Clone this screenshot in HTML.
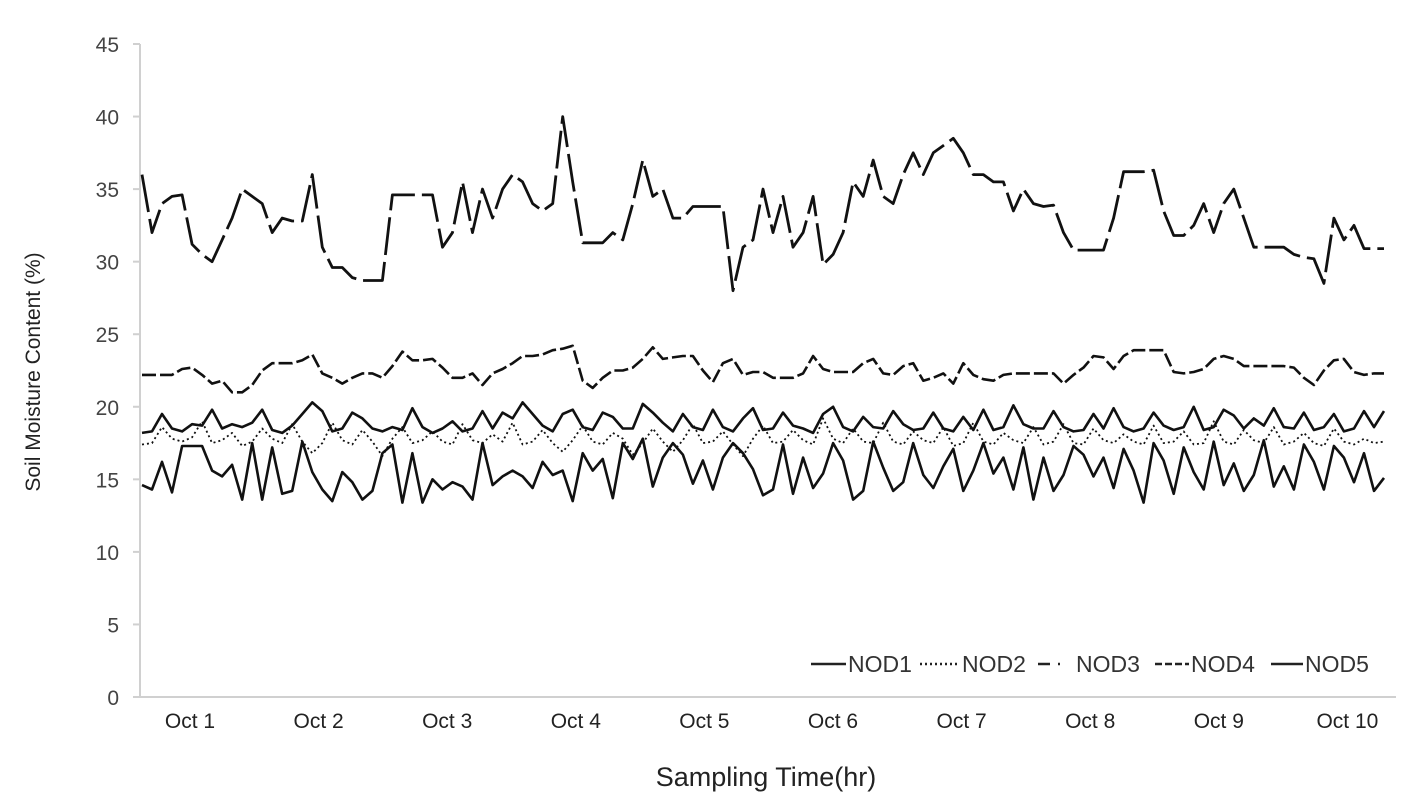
<!DOCTYPE html>
<html><head><meta charset="utf-8"><style>
html,body{margin:0;padding:0;background:#fff;}
svg{display:block;font-family:"Liberation Sans",sans-serif;}
</style></head><body>
<svg id="chart" width="1404" height="810" viewBox="0 0 1404 810">
<g id="axes"></g><g id="series"></g>
<text transform="translate(40,372) rotate(-90)" text-anchor="middle" font-size="21" fill="#222">Soil Moisture Content (%)</text>
<text x="766" y="786" text-anchor="middle" font-size="27" fill="#222">Sampling Time(hr)</text>
<g id="legend"></g>
</svg>
<script>
const yTicks=[0,5,10,15,20,25,30,35,40,45];
const days=["Oct 1","Oct 2","Oct 3","Oct 4","Oct 5","Oct 6","Oct 7","Oct 8","Oct 9","Oct 10"];
const seriesNames=["NOD1","NOD2","NOD3","NOD4","NOD5"];
const nod3=[36,32,34,34.5,34.6,31.2,30.5,30,31.5,33,35,34.5,34,32,33,32.8,32.8,36,31,29.6,29.6,28.9,28.7,28.7,28.7,34.6,34.6,34.6,34.6,34.6,31,32,35.5,32,35,33,35,36,35.5,34,33.5,34,40,35.5,31.3,31.3,31.3,32,31.5,34,37,34.5,35,33,33,33.8,33.8,33.8,33.8,28,31,31.5,35,32,34.5,31,32,34.5,29.8,30.5,32,35.5,34.5,37,34.5,34,36,37.5,36,37.5,38,38.5,37.5,36,36,35.5,35.5,33.5,35,34,33.8,33.9,32,30.8,30.8,30.8,30.8,33,36.2,36.2,36.2,36.3,33.5,31.8,31.8,32.5,34,32,34,35,33,31,31,31,31,30.5,30.3,30.2,28.5,33,31.5,32.5,30.9,30.9,30.9];
const nod4=[22.2,22.2,22.2,22.2,22.6,22.7,22.2,21.6,21.8,21,21,21.5,22.5,23,23,23,23.2,23.6,22.3,22,21.6,22,22.3,22.3,22,22.8,23.8,23.2,23.2,23.3,22.7,22,22,22.3,21.5,22.3,22.6,23,23.5,23.5,23.6,23.9,24,24.2,21.8,21.3,22,22.5,22.5,22.7,23.3,24.1,23.3,23.4,23.5,23.5,22.5,21.7,23,23.3,22.2,22.4,22.4,22,22,22,22.3,23.5,22.6,22.4,22.4,22.4,23,23.3,22.3,22.2,22.8,23,21.8,22,22.3,21.6,23,22.2,21.9,21.8,22.2,22.3,22.3,22.3,22.3,22.3,21.6,22.2,22.7,23.5,23.4,22.6,23.5,23.9,23.9,23.9,23.9,22.4,22.3,22.4,22.6,23.3,23.5,23.3,22.8,22.8,22.8,22.8,22.8,22.7,22,21.5,22.5,23.2,23.3,22.4,22.2,22.3,22.3];
const nod1=[18.2,18.3,19.5,18.5,18.3,18.8,18.7,19.8,18.5,18.8,18.6,18.9,19.8,18.4,18.2,18.7,19.5,20.3,19.7,18.3,18.5,19.6,19.2,18.5,18.3,18.6,18.4,19.9,18.6,18.2,18.5,19,18.3,18.5,19.7,18.5,19.6,19.2,20.3,19.5,18.7,18.3,19.5,19.8,18.6,18.4,19.6,19.3,18.5,18.5,20.2,19.6,18.9,18.3,19.5,18.6,18.4,19.8,18.6,18.3,19.2,19.9,18.4,18.5,19.6,18.7,18.5,18.2,19.5,20,18.6,18.3,19.3,18.6,18.5,19.7,18.8,18.4,18.5,19.6,18.5,18.3,19.3,18.4,19.8,18.4,18.6,20.1,18.8,18.5,18.5,19.7,18.6,18.3,18.4,19.5,18.5,19.9,18.6,18.3,18.5,19.6,18.7,18.4,18.6,20,18.4,18.6,19.8,19.4,18.5,19.2,18.7,19.9,18.6,18.5,19.6,18.4,18.6,19.5,18.3,18.5,19.7,18.6,19.7];
const nod2=[17.4,17.5,18.6,17.8,17.6,17.9,19,17.5,17.7,18.2,17.3,17.6,18.5,17.8,17.5,18.8,17.6,16.8,17.5,18.9,17.7,17.4,18.4,17.6,16.6,17.8,18.6,17.5,17.7,18.3,17.6,17.4,18.8,17.7,17.5,18.1,17.6,18.9,17.4,17.6,18.4,17.5,16.9,17.7,18.7,17.6,17.4,18.2,17.8,16.7,17.5,18.5,17.6,16.9,17.7,18.8,17.5,17.6,18.3,17.4,16.6,17.8,18.7,17.5,17.6,18.4,17.7,17.4,19.2,17.8,17.5,18.5,17.6,17.5,18.9,17.6,17.4,18.3,17.7,17.5,18.6,17.3,17.5,18.9,17.6,17.4,18.2,17.7,17.5,18.6,17.4,17.6,18.8,17.5,17.4,18.5,17.7,17.5,18.1,17.6,17.4,18.7,17.5,17.6,18.3,17.4,17.5,19,17.6,17.4,18.4,17.7,17.5,18.6,17.4,17.6,18.2,17.5,17.3,18.5,17.6,17.4,17.8,17.5,17.6];
const nod5=[14.6,14.3,16.2,14.1,17.3,17.3,17.3,15.6,15.2,16,13.6,17.5,13.6,17.2,14,14.2,17.6,15.5,14.3,13.5,15.5,14.8,13.6,14.2,16.8,17.4,13.4,16.8,13.4,15,14.3,14.8,14.5,13.6,17.5,14.6,15.2,15.6,15.2,14.4,16.2,15.3,15.6,13.5,16.8,15.6,16.4,13.7,17.5,16.4,17.8,14.5,16.5,17.5,16.7,14.7,16.3,14.3,16.5,17.5,16.8,15.7,13.9,14.3,17.4,14,16.5,14.4,15.4,17.5,16.3,13.6,14.2,17.6,15.8,14.2,14.8,17.5,15.3,14.4,15.9,17.1,14.2,15.6,17.5,15.4,16.5,14.3,17.2,13.6,16.5,14.2,15.3,17.3,16.7,15.2,16.5,14.4,17.1,15.6,13.4,17.5,16.3,14,17.2,15.5,14.3,17.6,14.6,16.1,14.2,15.3,17.7,14.5,15.9,14.3,17.4,16.2,14.3,17.3,16.5,14.8,16.8,14.2,15.1];

const X0=142,X1=1384,Y0=697,Y45=44;
const yS=v=>Y0-(v/45)*(Y0-Y45);
const xS=(i,n)=>X0+(i/(n-1))*(X1-X0);
const NS="http://www.w3.org/2000/svg";
function mk(tag,attrs,parent){const e=document.createElementNS(NS,tag);for(const k in attrs)e.setAttribute(k,attrs[k]);parent.appendChild(e);return e;}
const axes=document.getElementById('axes');
let ya=mk('line',{x1:140,y1:Y45,x2:140,y2:Y0,stroke:'#d0d0d0','stroke-width':2},axes);


let xa=mk('line',{x1:140,y1:Y0,x2:1396,y2:Y0,stroke:'#d0d0d0','stroke-width':2},axes);


yTicks.forEach(t=>{
 const y=yS(t);
 let tk=mk('line',{x1:133,y1:y,x2:140,y2:y,stroke:'#d0d0d0','stroke-width':2},axes);
 
 
 let tx=mk('text',{x:119,y:y+8,'text-anchor':'end','font-size':21,fill:'#444'},axes);
 tx.textContent=t;
 
 
});
days.forEach((d,i)=>{
 let tx=mk('text',{x:190+i*128.6,y:728,'text-anchor':'middle','font-size':21,fill:'#222'},axes);
 tx.textContent=d;
 
 
});
const sg=document.getElementById('series');
const styles=[
 {d:nod1,w:2.6,dash:''},
 {d:nod2,w:1.8,dash:'2 3'},
 {d:nod3,w:2.8,dash:'38 7'},
 {d:nod4,w:2.6,dash:'14 4'},
 {d:nod5,w:2.6,dash:''}];
styles.forEach((s,k)=>{
 const n=s.d.length;
 const pts=s.d.map((v,i)=>xS(i,n).toFixed(1)+','+yS(v).toFixed(1)).join(' ');
 let pl=mk('polyline',{points:pts,fill:'none',stroke:'#111','stroke-width':s.w,'stroke-linejoin':'round'},sg);
 if(s.dash)pl.setAttribute('stroke-dasharray',s.dash);
 
 
});
const lg=document.getElementById('legend');
const lx=[811,920,1038,1155,1271];
const lw=[35,40,36,34,32];
const ldash=['','2 3','12 8 2 14','7 3',''];
seriesNames.forEach((nm,i)=>{
 let ln=mk('line',{x1:lx[i],y1:664,x2:lx[i]+lw[i],y2:664,stroke:'#222','stroke-width':2.5},lg);
 if(ldash[i])ln.setAttribute('stroke-dasharray',ldash[i]);
 
 
 let tx=mk('text',{x:lx[i]+lw[i]+2,y:672,'font-size':23,fill:'#333'},lg);
 tx.textContent=nm;
 
 
});
</script>
</body></html>
